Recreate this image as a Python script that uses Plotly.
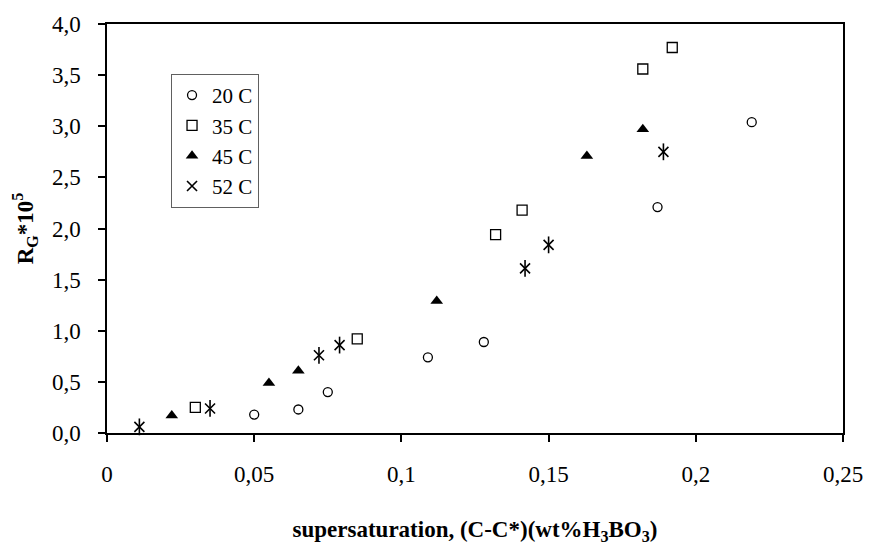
import plotly.graph_objects as go

# 20 C
x20 = [0.050, 0.065, 0.075, 0.109, 0.128, 0.187, 0.219]
y20 = [0.18, 0.23, 0.40, 0.74, 0.89, 2.21, 3.04]
# 35 C
x35 = [0.030, 0.085, 0.132, 0.141, 0.182, 0.192]
y35 = [0.25, 0.92, 1.94, 2.18, 3.56, 3.77]
# 45 C
x45 = [0.022, 0.055, 0.065, 0.112, 0.163, 0.182]
y45 = [0.17, 0.49, 0.61, 1.29, 2.71, 2.97]
# 52 C
x52 = [0.011, 0.035, 0.072, 0.079, 0.142, 0.150, 0.189]
y52 = [0.06, 0.24, 0.76, 0.86, 1.61, 1.84, 2.75]

series_names = ["20 C", "35 C", "45 C", "52 C"]

FONT = "Liberation Serif"
fig = go.Figure()

fig.add_trace(go.Scatter(x=x20, y=y20, mode="markers", name=series_names[0],
                         marker=dict(symbol="circle-open", size=9, color="black",
                                     line=dict(width=1.3, color="black")),
                         cliponaxis=False))
fig.add_trace(go.Scatter(x=x35, y=y35, mode="markers", name=series_names[1],
                         marker=dict(symbol="square-open", size=10, color="black",
                                     line=dict(width=1.3, color="black")),
                         cliponaxis=False))
fig.add_trace(go.Scatter(x=x45, y=y45, mode="markers", name=series_names[2],
                         marker=dict(symbol="triangle-up", size=11, color="black",
                                     line=dict(width=0)),
                         cliponaxis=False))
fig.add_trace(go.Scatter(x=x52, y=y52, mode="markers", name=series_names[3],
                         marker=dict(symbol="x-thin-open", size=10, color="black",
                                     line=dict(width=1.6, color="black")),
                         cliponaxis=False))
fig.add_trace(go.Scatter(x=x52, y=y52, mode="markers", showlegend=False,
                         hoverinfo="skip",
                         marker=dict(symbol="line-ns-open", size=12, color="black",
                                     line=dict(width=1.6, color="black")),
                         cliponaxis=False))

fig.update_layout(
    width=875, height=552,
    margin=dict(l=107, r=32, t=16, b=119),
    paper_bgcolor="white", plot_bgcolor="white",
    separators=", ",
    font=dict(family=FONT, size=22, color="black"),
    showlegend=True,
    legend=dict(x=0.087, y=0.878, xanchor="left", yanchor="top",
                bgcolor="white", bordercolor="#606060", borderwidth=1,
                font=dict(family=FONT, size=21, color="black"),
                itemwidth=30, tracegroupgap=0),
    xaxis=dict(range=[0, 0.25], dtick=0.05, tick0=0,
               showline=True, linecolor="black", linewidth=1.5, mirror=True,
               ticks="outside", ticklen=7, tickwidth=1.5, tickcolor="black",
               showgrid=False, zeroline=False,
               ticklabelstandoff=13,
               tickfont=dict(family=FONT, size=23),
               title=dict(text="<b>supersaturation, (C-C*)(wt%H<sub>3</sub>BO<sub>3</sub>)</b>",
                          font=dict(family=FONT, size=23), standoff=35)),
    yaxis=dict(range=[0, 4], dtick=0.5, tick0=0, tickformat=".1f",
               showline=True, linecolor="black", linewidth=1.5, mirror=True,
               ticks="outside", ticklen=7, tickwidth=1.5, tickcolor="black",
               showgrid=False, zeroline=False,
               ticklabelstandoff=13,
               tickfont=dict(family=FONT, size=23),
               title=dict(text="<b>R<sub>G</sub>*10<sup>5</sup></b>",
                          font=dict(family=FONT, size=23), standoff=12)),
)

fig.write_html("out.html")
